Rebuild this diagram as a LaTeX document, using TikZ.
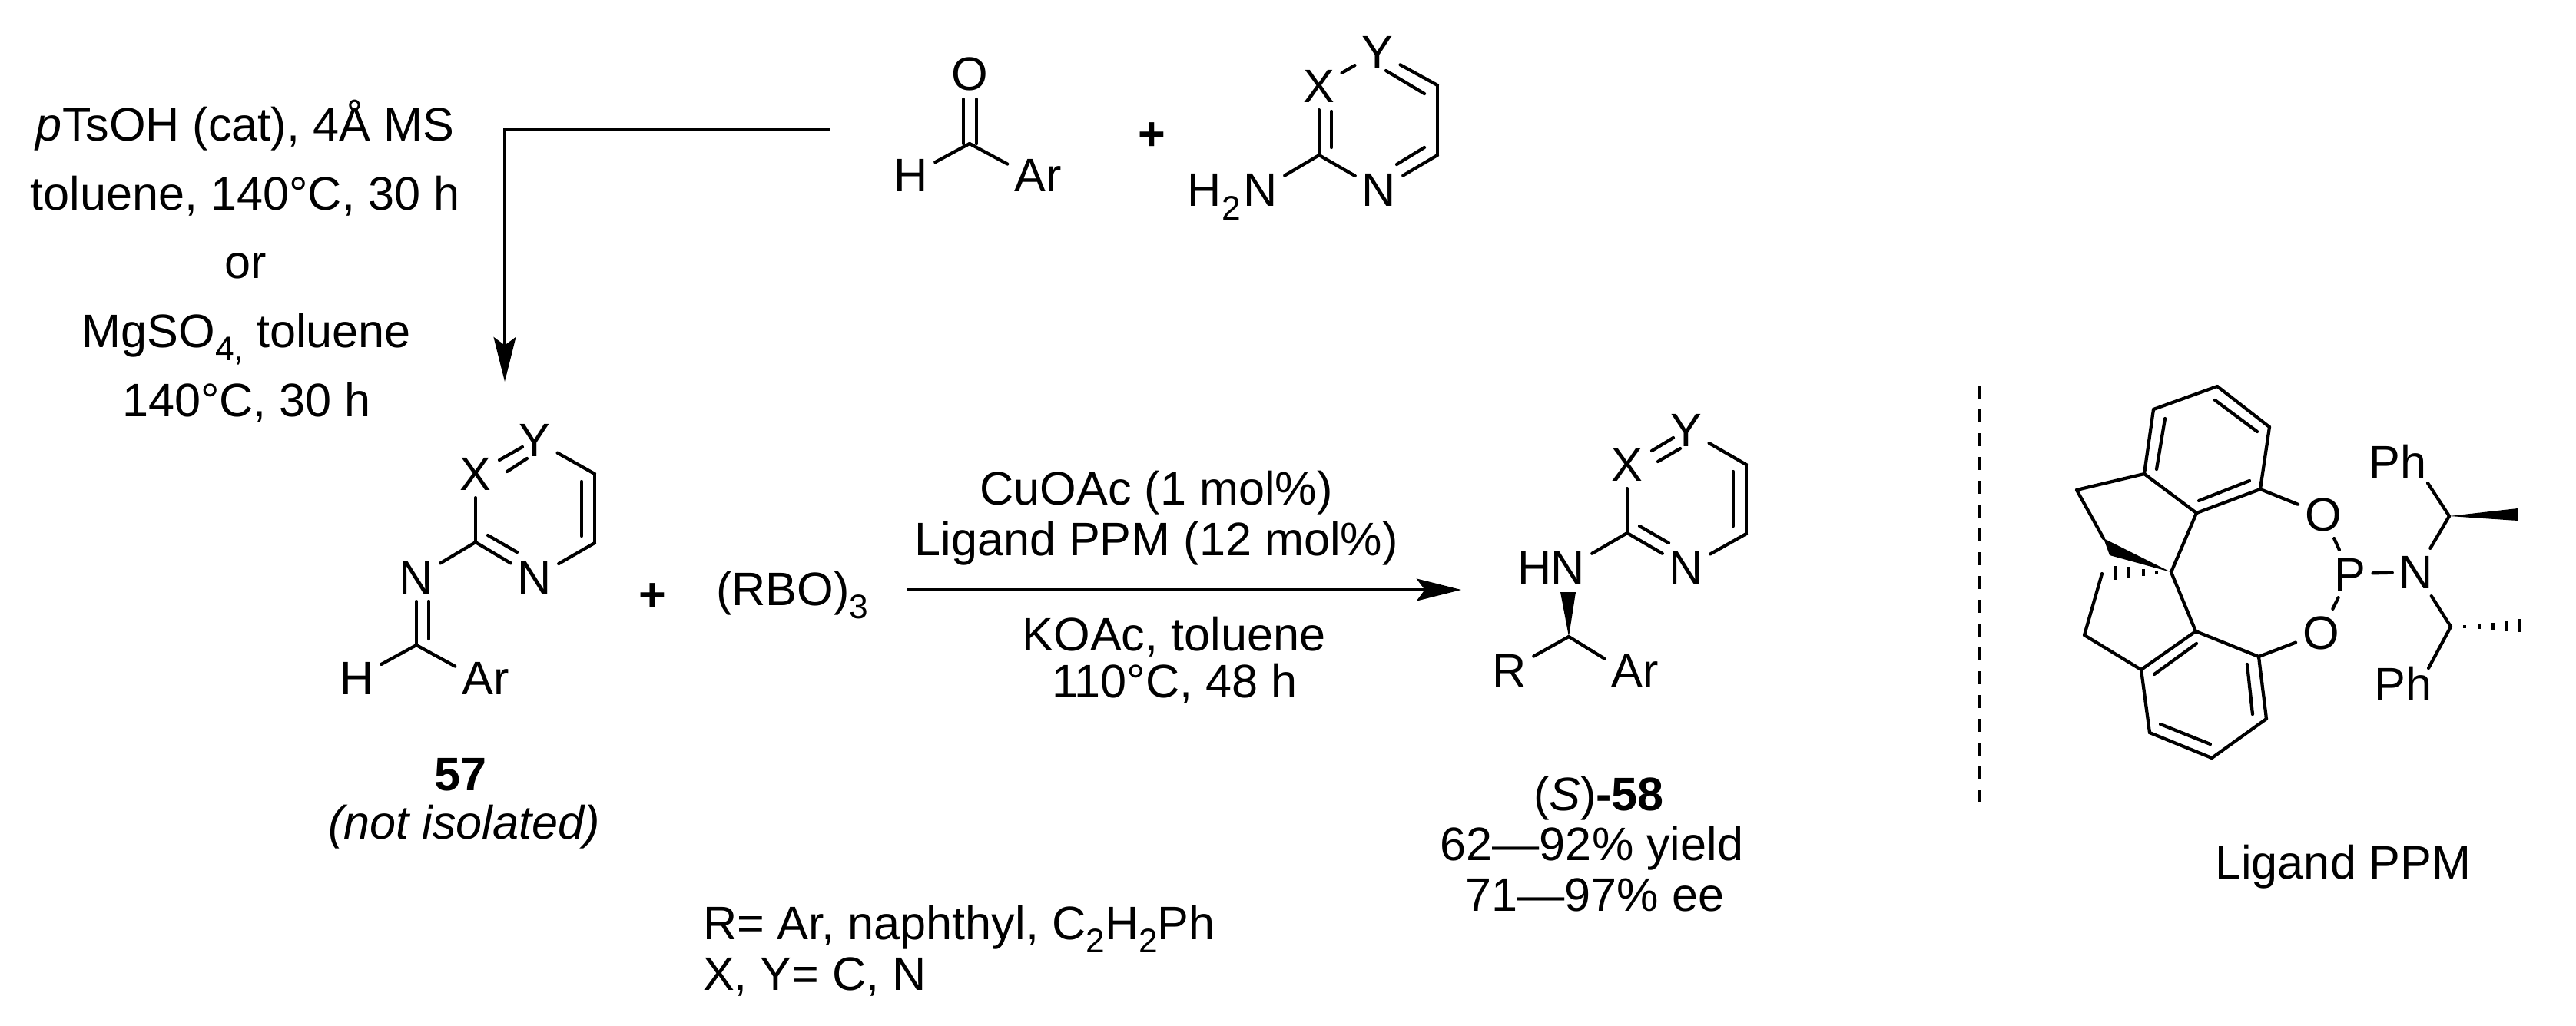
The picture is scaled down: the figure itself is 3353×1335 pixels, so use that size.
\documentclass[tikz,border=0pt]{standalone}
\usepackage{fontspec}
\setmainfont{Liberation Sans}
\usetikzlibrary{positioning,arrows.meta}

\newcommand{\subscr}[1]{\raisebox{-0.28em}{\fontsize{12.6}{14}\selectfont #1}}

\begin{document}
\begin{tikzpicture}[x=0.01cm,y=-0.01cm,line width=1.2pt,line cap=round]
    \tikzstyle{every node}=[font=\fontsize{17.4}{20}\selectfont]
    \tikzstyle{atom}=[inner sep=2pt,text height=12.5pt,text depth=0pt]
    \tikzstyle{txt}=[inner sep=0pt,anchor=base]
    \tikzstyle{txt left}=[inner sep=0pt,anchor=base west]
    \tikzstyle{rxn arrow}=[line cap=butt,-{Stealth[length=16.5pt,width=8.2pt,inset=3pt]}]
    \tikzstyle{hash}=[line cap=butt,line width=1.3pt]

    \useasboundingbox (0,0) rectangle (3353,1335);

    % Draw the labelled atoms
    \foreach \name/\x/\y/\lbl in {A-O/1262/96/O,A-H/1186/228/H,A-Ar/1351/228/Ar,
        B-X/1717/112/X,B-Y/1793/68/Y,B-N/1795/247/N,B-NH/1641/247/N,
        C-X/619/617/X,C-Y/696/573/Y,C-N/696/752/N,C-NI/542/752/N,C-H/465/882/H,C-Ar/632/882/Ar,
        D-X/2118/605/X,D-Y/2195/560/Y,D-N/2195/739/N,D-NH/2041/739/N,D-R/1965/872/R,D-Ar/2128/872/Ar,
        L-O1/3024/670/O,L-O2/3021/824/O,L-P/3059/747/P,L-N/3145/745/N,L-Ph1/3121/602/Ph,L-Ph2/3128/890/Ph}
        \node[atom] (\name) at (\x,\y) {\lbl};
    \node[atom,left=-4pt of B-NH] (B-H2) {H\subscr{2}};
    \node[atom,left=-5.5pt of D-NH] (D-H) {H};

    % Plus signs
    \node[atom] (plus1) at (1499,174) {\textbf{+}};
    \node[atom] (plus2) at (849,773) {\textbf{+}};

    % The bare carbons
    \foreach \name/\x/\y in {A-C/1262/187,
        B-C/1717/202,B-R1/1871/111,B-R2/1871/202,
        C-C/619/706,C-R1/774/617,C-R2/774/707,C-CH/542/840,
        D-C/2118/694,D-R1/2273/605,D-R2/2273/695,D-CH/2042/829,
        L-a/2886/503,L-b/2954/556,L-c/2942/637,L-d/2859/668,L-e/2791/617,L-f/2803/533,
        L-g/2858/822,L-h/2940/855,L-i/2950/936,L-j/2879/987,L-k/2798/954,L-l/2787/872,
        L-m/2703/638,L-n/2738/701,L-o/2713/827,L-p/2736/747,L-s/2826/745,
        L-t/3188/672,L-u/3190/816,L-v/3160/629,L-w/3161/870}
        \coordinate (\name) at (\x,\y);

    % Connect the atoms with single bonds
    \foreach \source/\dest in {A-C/A-H,A-C/A-Ar.160,
        B-C/B-X,B-C/B-NH,B-C/B-N,B-X/B-Y,B-Y/B-R1,B-R1/B-R2,B-R2/B-N,
        C-C/C-X,C-C/C-NI,C-C/C-N,C-Y/C-R1,C-R1/C-R2,C-R2/C-N,C-NI/C-CH,C-CH/C-H,C-CH/C-Ar.160,
        D-C/D-X,D-C/D-NH,D-C/D-N,D-Y/D-R1,D-R1/D-R2,D-R2/D-N,D-CH/D-R,D-CH/D-Ar.160,
        L-a/L-b,L-b/L-c,L-c/L-d,L-d/L-e,L-e/L-f,L-f/L-a,
        L-g/L-h,L-h/L-i,L-i/L-j,L-j/L-k,L-k/L-l,L-l/L-g,
        L-e/L-m,L-m/L-n,L-l/L-o,L-o/L-p,L-s/L-d,L-s/L-g,
        L-c/L-O1,L-h/L-O2,L-O1/L-P,L-O2/L-P,L-P/L-N,
        L-N/L-t,L-N/L-u,L-t/L-v,L-u/L-w}
        \path[draw] (\source) edge (\dest);

    % Second lines of the double bonds
    \foreach \name/\ax/\ay/\bx/\by in {A1/1254/129/1254/187,A2/1271/129/1271/187,
        B1/1733/145/1733/192,B2/1804/92/1854/122,B3/1854/192/1818/214,
        C1/650/599/680/582,C2/660/614/686/597,C3/757/627/757/698,C4/635/697/673/719,C5/558/783/558/832,
        D1/2150/587/2178/570,D2/2158/601/2187/584,D3/2256/614/2256/685,D4/2134/685/2172/707,
        L1/2883/521/2938/562,L2/2928/626/2862/652,L3/2807/611/2818/545,
        L4/2859/838/2804/878,L5/2925/865/2932/930,L6/2877/969/2812/943}
    {
        \coordinate (\name-a) at (\ax,\ay);
        \coordinate (\name-b) at (\bx,\by);
        \path[draw] (\name-a) edge (\name-b);
    }

    % Wedges
    \fill (D-CH) -- (2031,771) -- (2051,771) -- cycle;
    \fill (L-s) -- (L-n) -- (2746,723) -- cycle;
    \fill (L-t) -- (3277,662) -- (3277,678) -- cycle;

    % Hashed bonds
    \foreach \x/\ya/\yb in {2753/737/755,2771/738/753,2790/741/750,2807/743/747,
        3208/814/818,3227/812/819,3245/811/821,3263/808/822,3279/806/823}
        \draw[hash] (\x,\ya) -- (\x,\yb);

    % Reaction arrows
    \coordinate (start1) at (1081,169);
    \coordinate (corner1) at (657,169);
    \coordinate (end1) at (657,497);
    \draw[rxn arrow] (start1) -- (corner1) -- (end1);
    \coordinate (start2) at (1180,768);
    \coordinate (end2) at (1902,768);
    \draw[rxn arrow] (start2) -- (end2);

    % Conditions of the first step
    \node[txt] (cond1) at (319,183) {\textit{p}TsOH (cat), 4Å MS};
    \node[txt] (cond2) at (319,273) {toluene, 140°C, 30 h};
    \node[txt] (cond3) at (320,362) {or};
    \node[txt] (cond4) at (321,452) {MgSO\subscr{4,} toluene};
    \node[txt] (cond5) at (321,542) {140°C, 30 h};

    % Conditions of the second step
    \node[txt] (cat1) at (1505,657) {CuOAc (1 mol\%)};
    \node[txt] (cat2) at (1505,723) {Ligand PPM (12 mol\%)};
    \node[txt] (cat3) at (1528,847) {KOAc, toluene};
    \node[txt] (cat4) at (1529,908) {110°C, 48 h};
    \node[txt left] (boron) at (930,788) {(RBO)\subscr{3}};

    % Annotate the compounds
    \node[txt] (name57) at (600,1029) {\textbf{57}};
    \node[txt] (isol) at (604,1092) {\textit{(not isolated)}};
    \node[txt] (name58) at (2081,1055) {(\textit{S})\textbf{-58}};
    \node[txt] (yield) at (2072,1120) {62—92\% yield};
    \node[txt] (ee) at (2076,1186) {71—97\% ee};
    \node[txt left] (scope1) at (913,1223) {R= Ar, naphthyl, C\subscr{2}H\subscr{2}Ph};
    \node[txt left] (scope2) at (913,1289) {X, Y= C, N};
    \node[txt] (ligand) at (3050,1144) {Ligand PPM};

    % Dashed separator
    \coordinate (sep1) at (2576,502);
    \coordinate (sep2) at (2576,1044);
    \draw[line cap=butt,line width=1.4pt,dash pattern=on 0.17cm off 0.14cm] (sep1) -- (sep2);
\end{tikzpicture}
\end{document}
